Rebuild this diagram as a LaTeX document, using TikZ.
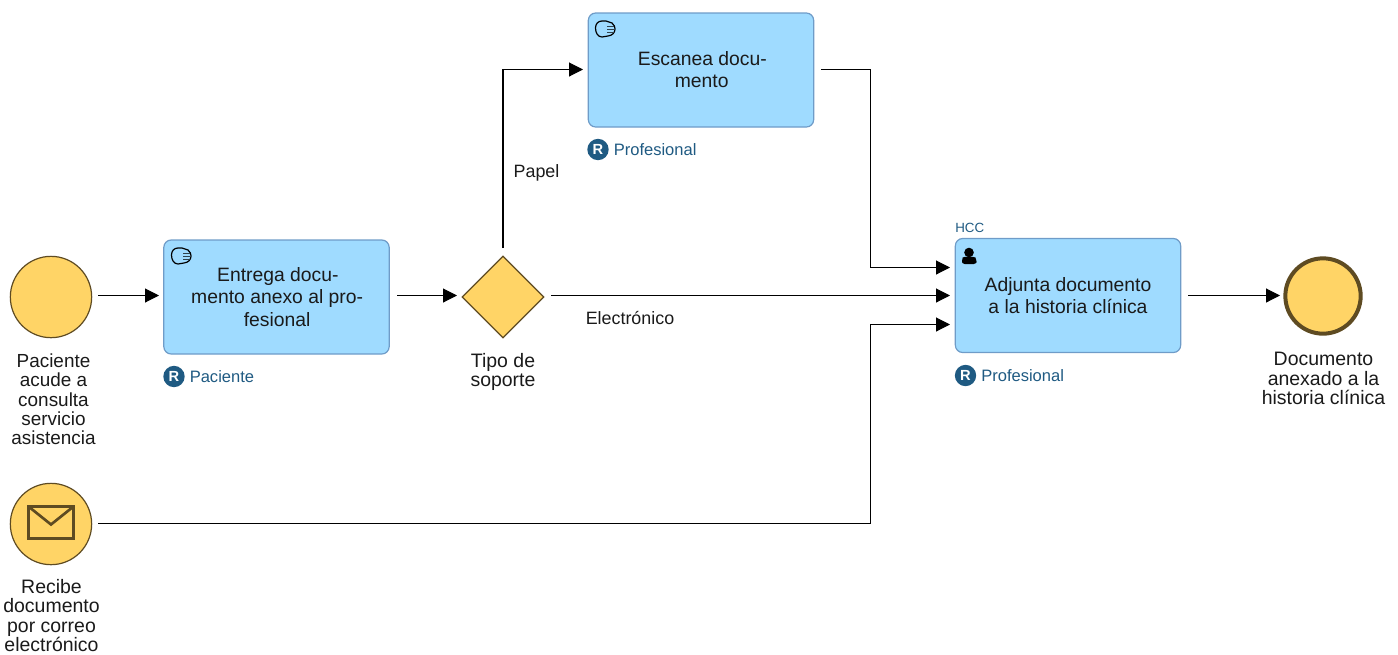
\documentclass[tikz,border=0pt]{standalone}
\usepackage{fontspec}
\setmainfont{Liberation Sans}
\usetikzlibrary{arrows.meta,shapes.geometric,calc}
\definecolor{taskfill}{HTML}{9FDBFF}
\definecolor{taskline}{HTML}{6F9CC8}
\definecolor{evfill}{HTML}{FFD466}
\definecolor{evline}{HTML}{5E4B22}
\definecolor{rolecol}{HTML}{1F5A82}
\definecolor{textcol}{HTML}{1A1A1A}
\tikzset{
 x=0.75pt,y=-0.75pt,
 taskbox/.style={draw=taskline,line width=0.9pt,fill=taskfill,rounded corners=5.5pt,minimum width=169pt,minimum height=85.5pt,inner sep=0pt,align=center,font=\fontsize{14.5}{16.6}\selectfont,text=textcol},
 evstart/.style={circle,draw=evline,line width=0.9pt,fill=evfill,minimum size=61pt,inner sep=0pt},
 evend/.style={circle,draw=evline,line width=3pt,fill=evfill,minimum size=56.5pt,inner sep=0pt},
 gate/.style={diamond,draw=evline,line width=0.9pt,fill=evfill,minimum width=61.5pt,minimum height=61.5pt,inner sep=0pt},
 lab/.style={align=center,font=\fontsize{14.6}{14.6}\selectfont,text=textcol,inner sep=0pt},
 flowlab/.style={font=\fontsize{13.4}{14}\selectfont,text=textcol,inner sep=0pt},
 rolelab/.style={font=\fontsize{12.4}{14}\selectfont,text=rolecol,inner sep=0pt,anchor=west},
 rolebadge/.style={circle,fill=rolecol,text=white,minimum size=16pt,inner sep=0pt,font=\fontsize{11}{12}\selectfont\bfseries},
 flow/.style={draw=black,line width=0.8pt,-{Triangle[length=10.5pt,width=10.5pt]}},
 iconline/.style={draw=black,line width=0.9pt,line join=round},
}
\begin{document}
\begin{tikzpicture}
\useasboundingbox (0,0) rectangle (1398,654);
% events
\node[evstart] (start) at (51,297) {};
\node[evstart] (mail) at (51,524) {};
\node[evend] (end) at (1323,296) {};
\node[gate] (gw) at (503,297) {};
% tasks
\node[taskbox] (entrega) at (276.5,297) {\hspace*{2pt}Entrega docu-\\\hspace*{1pt}mento anexo al pro-\\\hspace*{1pt}fesional};
\node[taskbox] (escanea) at (701,70) {\hspace*{2pt}Escanea docu-\\\hspace*{1pt}mento};
\node[taskbox] (adjunta) at (1068,295.5) {Adjunta documento\\a la historia clínica};
% envelope
\draw[draw=evline,line width=2pt,line join=miter] (28.5,506.5) rectangle (73.5,538.5);
\draw[draw=evline,line width=2pt,line join=miter] (28.5,506.5) -- (51,524.5) -- (73.5,506.5);
% hand icons
\foreach \ox/\oy in {171/247,595/20}{
\begin{scope}[shift={(\ox,\oy)}]
\draw[iconline,fill=none] (0.5,8) .. controls (0.5,4) and (3,1) .. (7,1) -- (11,1) .. controls (13,2.5) and (15,1.5) .. (17,3) .. controls (19.5,5) and (20,7) .. (20,9) .. controls (20,13) and (17,15.5) .. (13,16) -- (7,17) .. controls (3,17) and (0.5,13) .. (0.5,8) -- cycle;
\draw[draw=black!70!taskfill,line width=0.4pt] (12,6) -- (19,6) (12,9) -- (20,9) (12,12) -- (18.5,12);
\end{scope}}
% person icon
\fill[black] (969,252.5) circle[radius=4.8];
\fill[black,rounded corners=2pt] (962,264) -- (962,260) .. controls (963,256.5) and (975,256.5) .. (976.5,260) -- (976.5,264) -- cycle;
% outer labels
\node[lab,anchor=north,font=\fontsize{14.2}{14.45}\selectfont] (l1) at (53.5,353.5) {Paciente\\acude a\\consulta\\servicio\\asistencia};
\node[lab,anchor=north] (l2) at (51.5,579) {Recibe\\documento\\por correo\\electrónico};
\node[lab,anchor=north] (l3) at (503,353) {Tipo de\\soporte};
\node[lab,anchor=north] (l4) at (1323.5,352) {Documento\\anexado a la\\historia clínica};
% flow labels
\node[flowlab] (papel) at (536.5,172.5) {Papel};
\node[flowlab] (elec) at (630,318.5) {Electrónico};
% roles
\node[rolebadge] (r1) at (174,376.5) {R};
\node[rolelab] (rl1) at (189.5,376.5) {Paciente};
\node[rolebadge] (r2) at (598,149.5) {R};
\node[rolelab] (rl2) at (613.5,149.5) {Profesional};
\node[rolebadge] (r3) at (965.5,375.5) {R};
\node[rolelab] (rl3) at (981,375.5) {Profesional};
\node[font=\fontsize{10}{12}\selectfont,text=rolecol,inner sep=0pt,anchor=west] (hcc) at (955,228) {HCC};
% ports
\coordinate (p0) at (98,295.5);
\coordinate (p1) at (159,295.5);
\coordinate (e1) at (397,295.5);
\coordinate (g1) at (457,295.5);
\coordinate (g2) at (503,248);
\coordinate (g3) at (551,295.5);
\coordinate (k1) at (503,69.5);
\coordinate (s1) at (583,69.5);
\coordinate (s2) at (821,69.5);
\coordinate (a1) at (950,267.5);
\coordinate (a2) at (950,295.5);
\coordinate (a3) at (950,324.5);
\coordinate (m0) at (98,523.5);
\coordinate (v1) at (870.5,267.5);
\coordinate (v2) at (870.5,69.5);
\coordinate (v3) at (870.5,523.5);
\coordinate (v4) at (870.5,324.5);
\coordinate (q0) at (1188,295.5);
\coordinate (q1) at (1280,295.5);
% connectors
\draw[flow] (p0) -- (p1);
\draw[flow] (e1) -- (g1);
\draw[flow] (g2) -- (k1) -- (s1);
\draw[flow] (g3) -- (a2);
\draw[flow] (s2) -- (v2) -- (v1) -- (a1);
\draw[flow] (m0) -- (v3) -- (v4) -- (a3);
\draw[flow] (q0) -- (q1);
\end{tikzpicture}
\end{document}
